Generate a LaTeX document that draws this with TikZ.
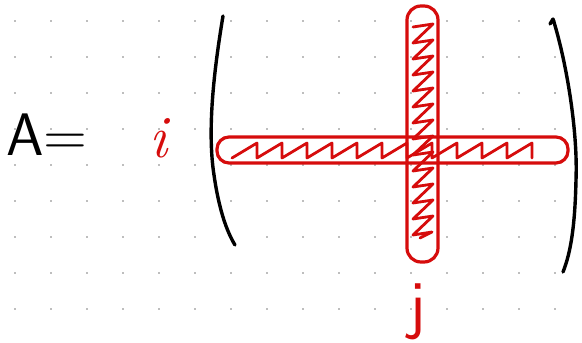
\documentclass[tikz,border=0pt]{standalone}
\usetikzlibrary{positioning}
\definecolor{inkred}{RGB}{214,12,12}
\definecolor{dotgrey}{RGB}{190,190,190}

\begin{document}
\begin{tikzpicture}[x=1pt,y=-1pt,
        ink/.style={black,line width=3.4pt,line cap=round,line join=round},
        redink/.style={inkred,line width=3.2pt,line cap=round,line join=round},
        lbl/.style={inner sep=0pt,outer sep=0pt}]
        \useasboundingbox[fill=white] (0,0) rectangle (582,343);
        % dot grid
        \foreach \c in {0,...,15}{\foreach \r in {0,...,8}{
          \fill[dotgrey] (14+36*\c,20+36*\r) rectangle +(2,2);}}
        % labels
        \node[lbl,anchor=base west](lhs) at (6,155){\fontsize{60}{60}\selectfont\sffamily A=};
        \node[lbl,anchor=base,text=inkred](rowi) at (158,157){\fontsize{60}{60}\selectfont\itshape i};
        \node[lbl,anchor=base,text=inkred](colj) at (418,326){\fontsize{66}{66}\selectfont\sffamily j};
        % brackets
        \draw[ink] (223,16) .. controls (214,70) and (207,130) .. (214,175) .. controls (219,210) and (227,232) .. (235,245);
        \draw[ink] (550,24) -- (553,19) .. controls (566,60) and (578,130) .. (576,180) .. controls (575,225) and (571,252) .. (563,272);
        % row band and column band
        \draw[redink,rounded corners=12pt] (217,137) rectangle (568,163);
        \draw[redink,rounded corners=14pt] (407,6) rectangle (438,262);
        % hatching
        \draw[redink,line width=2.8pt] (232,158) \foreach \k in {0,...,11}{ -- (257+25*\k,143) -- (257+25*\k,158)};
        \draw[redink,line width=2.8pt] (413,27) \foreach \k in {0,...,12}{ -- (433,24+16*\k) -- (413,43+16*\k)} -- (432,232) -- (420,238);
\end{tikzpicture}
\end{document}
